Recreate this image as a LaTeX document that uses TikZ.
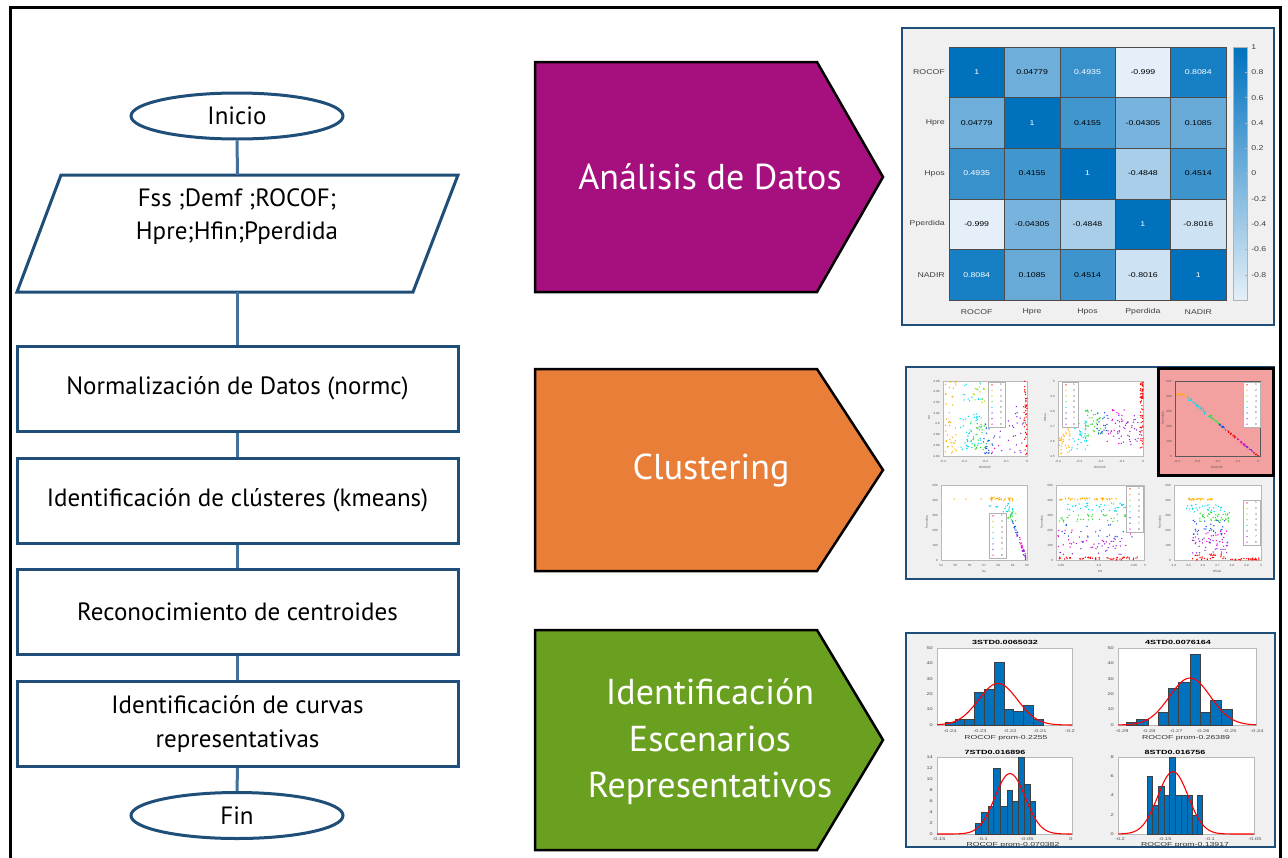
\documentclass[tikz,border=0pt]{standalone}
\usepackage{fontspec}
\setmainfont{PT Sans}
\newfontfamily\chartf{Liberation Sans}
\usetikzlibrary{shapes.geometric}
\definecolor{fcol}{RGB}{31,78,121}
\definecolor{ccol}{RGB}{65,113,156}
\definecolor{magA}{RGB}{165,16,126}
\definecolor{oraA}{RGB}{232,126,56}
\definecolor{grnA}{RGB}{106,160,32}
\definecolor{hd}{RGB}{0,114,189}
\definecolor{hl}{RGB}{228,239,249}
\definecolor{panelbg}{RGB}{240,240,240}
\definecolor{panelfr}{RGB}{31,78,121}
\definecolor{pinkbg}{RGB}{242,160,160}
\definecolor{k1}{RGB}{255,0,0}
\definecolor{k2}{RGB}{255,175,0}
\definecolor{k3}{RGB}{175,225,0}
\definecolor{k4}{RGB}{60,220,60}
\definecolor{k5}{RGB}{0,220,235}
\definecolor{k6}{RGB}{20,80,230}
\definecolor{k7}{RGB}{140,40,220}
\definecolor{k8}{RGB}{240,0,200}
\tikzset{
 flowbox/.style={rectangle, draw=fcol, line width=3pt, fill=white, minimum width=441pt, minimum height=85pt, inner sep=0pt, font=\fontsize{25}{34}\selectfont, align=center},
 term/.style={ellipse, draw=fcol, line width=3pt, fill=white, minimum width=212pt, minimum height=46pt, inner sep=0pt, font=\fontsize{25}{30}\selectfont},
 flowline/.style={draw=fcol, line width=3pt, fill=white, line join=miter},
 flowtext/.style={font=\fontsize{25}{33}\selectfont, align=center, inner sep=0pt},
 conn/.style={draw=ccol, line width=3pt},
 pent/.style={draw=black, line width=2.5pt, line join=miter},
 penttext/.style={text=white, font=\fontsize{36}{46.5}\selectfont, align=center, inner sep=0pt},
 panel/.style={fill=panelbg, draw=panelfr, line width=1.5pt},
 hmt/.style={font=\chartf\fontsize{7}{8}\selectfont, inner sep=0pt, xscale=1.25},
 hml/.style={font=\chartf\fontsize{7}{8}\selectfont, inner sep=0pt, text=black!75, xscale=1.25},
 sct/.style={font=\chartf\fontsize{3}{3.5}\selectfont, inner sep=0pt, text=black!65, xscale=1.1},
 sctr/.style={font=\chartf\fontsize{3}{3.5}\selectfont, inner sep=0pt, text=black!65, rotate=90},
 axb/.style={fill=white, draw=gray!55, line width=0.5pt},
 hst/.style={font=\chartf\fontsize{4}{5}\selectfont, inner sep=0pt, text=black!70, xscale=1.4},
 htitle/.style={font=\chartf\bfseries\fontsize{6}{7}\selectfont, inner sep=0pt, xscale=1.5},
 hxl/.style={font=\chartf\fontsize{5.8}{6.5}\selectfont, inner sep=0pt, text=black!80, xscale=1.5},
 barf/.style={fill=hd, draw=black!75, line width=0.4pt},
 gauss/.style={draw=red, line width=1.1pt},
}
\newcommand\scatpts[6]{%
  \foreach \sk in {1,...,#6}{%
    \pgfmathsetmacro\sxa{#1+#2*rnd}%
    \pgfmathsetmacro\sya{#3+#4*rnd}%
    \fill[#5] (\sxa,\sya) circle (0.75pt);}}
\newcommand\linpts[7]{%
  \foreach \sk in {1,...,#6}{%
    \pgfmathsetmacro\stq{rnd}%
    \pgfmathsetmacro\sxa{#1+(#3-#1)*\stq+#7*rand}%
    \pgfmathsetmacro\sya{#2+(#4-#2)*\stq+#7*rand}%
    \fill[#5] (\sxa,\sya) circle (0.75pt);}}
\newcommand\legbox[4]{%
  \filldraw[fill=white, draw=gray!60, line width=0.6pt] (#1,#2) rectangle ++(#3,#4);
  \foreach \cc [count=\j] in {k1,k2,k3,k4,k5,k6,k7,k8}{%
    \fill[\cc] ({#1+4},{#2+#4*(\j-0.5)/8}) circle (0.7pt);
    \node[sct] at ({#1+#3-4},{#2+#4*(\j-0.5)/8}) {\j};}}
\begin{document}
\begin{tikzpicture}[x=1pt,y=-1pt]
\useasboundingbox (0,0) rectangle (1288,857);
\clip (0,0) rectangle (1288,857);
\fill[white] (0,0) rectangle (1288,857);
\draw[line width=3pt] (10,7) rectangle (1280,900);

% ---------------- flowchart
\node[term] (ini) at (237,116) {Inicio};
\node[draw=none, minimum width=441pt, minimum height=117pt, inner sep=0pt] (inp) at (237.5,233.5) {};
\draw[flowline] (61,175) -- (458,175) -- (413,292) -- (17,292) -- cycle;
\node[flowtext] (inpt) at (237,217) {Fss ;Demf ;ROCOF;\\Hpre;Hfin;Pperdida};
\node[flowbox] (b1) at (237.5,388.5) {Normalización de Datos (normc)};
\node[flowbox] (b2) at (237.5,500.5) {Identificación de clústeres (kmeans)};
\node[flowbox] (b3) at (237.5,612) {Reconocimiento de centroides};
\node[flowbox] (b4) at (237.5,724) {Identificación de curvas\\representativas};
\node[term] (fin) at (237,815.5) {Fin};
\draw[conn] (ini.south) -- (inp.north);
\draw[conn] (inp.south) -- (b1.north);
\draw[conn] (b1.south) -- (b2.north);
\draw[conn] (b2.south) -- (b3.north);
\draw[conn] (b3.south) -- (b4.north);
\draw[conn] (b4.south) -- (fin.north);

% ---------------- pentagons
\draw[pent, fill=magA] (535,62) -- (817,62) -- (883,177) -- (817,292) -- (535,292) -- cycle;
\node[penttext] (p1) at (710,177) {Análisis de Datos};
\draw[pent, fill=oraA] (535,369) -- (817,369) -- (883,470) -- (817,571) -- (535,571) -- cycle;
\node[penttext] (p2) at (711,470) {Clustering};
\draw[pent, fill=grnA] (535,630) -- (817,630) -- (883,740) -- (817,850) -- (535,850) -- cycle;
\node[penttext] (p3) at (710,742) {Identificación\\Escenarios\\Representativos};

% ---------------- heatmap panel
\draw[panel] (902,28) rectangle (1274,325);
\foreach \v [count=\i from 0] in {1,0.04779,0.4935,-0.999,0.8084,0.04779,1,0.4155,-0.04305,0.1085,0.4935,0.4155,1,-0.4848,0.4514,-0.999,-0.04305,-0.4848,1,-0.8016,0.8084,0.1085,0.4514,-0.8016,1}{
  \pgfmathtruncatemacro\hc{mod(\i,5)}
  \pgfmathtruncatemacro\hr{int(\i/5)}
  \pgfmathtruncatemacro\hp{round((\v+1)*50)}
  \pgfmathsetmacro\hX{949+\hc*55.4}
  \pgfmathsetmacro\hY{47+\hr*50.6}
  \ifdim\v pt>0.47pt \def\htc{white}\else\def\htc{black}\fi
  \filldraw[fill=hd!\hp!hl, draw=gray!60!black, line width=0.6pt] (\hX,\hY) rectangle ++(55.4,50.6);
  \node[hmt, text=\htc] at (\hX+27.7,\hY+25.3) {\v};
}
\foreach \l [count=\j from 0] in {ROCOF,Hpre,Hpos,Pperdida,NADIR}{
  \node[hml, anchor=east] at (945,{72.3+50.6*\j}) {\l};
  \node[hml] at ({976.7+55.4*\j},312) {\l};
}
\shade[top color=hd, bottom color=hl] (1233,47) rectangle (1247,300);
\draw[gray!60, line width=0.6pt] (1233,47) rectangle (1247,300);
\foreach \l [count=\j from 0] in {1,0.8,0.6,0.4,0.2,0,-0.2,-0.4,-0.6,-0.8}{
  \draw[gray!60, line width=0.4pt] (1247,{47+25.3*\j}) -- (1244.5,{47+25.3*\j});
  \node[hml, anchor=west] at (1251,{47+25.3*\j}) {\l};
}

% ---------------- clustering panel
\pgfmathsetseed{12}
\draw[panel] (906,367) rectangle (1274,579);
\fill[pinkbg] (1158,368) rectangle (1273,475);
\draw[line width=3pt] (1158,368) rectangle (1273,475);
% plot 1
\draw[axb] (943,381) rectangle (1027,456);
\scatpts{945}{12}{381}{73}{k2}{40}
\scatpts{960}{22}{410}{40}{k5}{45}
\scatpts{962}{22}{381}{22}{k5}{15}
\scatpts{972}{13}{381}{22}{k3}{12}
\scatpts{970}{17}{420}{30}{k4}{30}
\scatpts{983}{12}{418}{36}{k6}{25}
\scatpts{992}{13}{381}{73}{k8}{15}
\scatpts{998}{26}{405}{49}{k7}{30}
\scatpts{1024}{3}{381}{74}{k1}{40}
\legbox{988}{382}{17}{45}
\foreach \l [count=\j from 0] in {-0.4,-0.3,-0.2,-0.1,0} \node[sct] at ({943+21*\j},461) {\l};
\foreach \l [count=\j from 0] in {4.98,4.96,4.94,4.92,4.9,4.88,4.86,4.84} \node[sct, anchor=east] at (940,{381+10.71*\j}) {\l};
\node[sct] at (985,467) {ROCOF};
\node[sctr] at (929,418) {Hd};
% plot 2
\draw[axb] (1058,381) rectangle (1143,456);
\scatpts{1059}{11}{425}{29}{k2}{35}
\scatpts{1071}{17}{416}{34}{k5}{40}
\scatpts{1085}{17}{409}{29}{k4}{40}
\scatpts{1097}{11}{412}{22}{k6}{20}
\scatpts{1107}{18}{409}{35}{k8}{25}
\scatpts{1117}{23}{412}{36}{k7}{35}
\scatpts{1140}{3}{382}{66}{k1}{40}
\scatpts{1140}{3}{382}{18}{k1}{20}
\legbox{1062}{382}{16}{45}
\foreach \l [count=\j from 0] in {-0.4,-0.3,-0.2,-0.1,0} \node[sct] at ({1058+21.25*\j},461) {\l};
\foreach \l [count=\j from 0] in {5,4.9,4.8,4.7,4.6,4.5} \node[sct, anchor=east] at (1055,{381+15*\j}) {\l};
\node[sct] at (1100,467) {ROCOF};
\node[sctr] at (1045,418) {Hfinal};
% plot 3 (highlighted)
\draw[gray!70!black, line width=0.5pt] (1175,381) rectangle (1260,456);
\linpts{1177}{394}{1188}{396}{k2}{15}{1}
\linpts{1188}{398}{1209}{415.4}{k5}{30}{1.5}
\linpts{1209}{415.4}{1219.5}{424.1}{k4}{18}{1.2}
\linpts{1219.5}{424.1}{1226.5}{429.9}{k6}{12}{1}
\linpts{1226.5}{429.9}{1235.6}{437.4}{k1}{14}{0.8}
\linpts{1235.6}{437.4}{1245.4}{445.6}{k8}{15}{0.8}
\linpts{1245.4}{445.6}{1253.1}{452}{k7}{12}{0.8}
\linpts{1253.1}{452}{1258}{456}{k1}{8}{0.6}
\legbox{1243}{382}{17}{45}
\foreach \l [count=\j from 0] in {-0.4,-0.3,-0.2,-0.1,0} \node[sct] at ({1177+20.25*\j},461) {\l};
\foreach \l [count=\j from 0] in {500,400,300,200,100,0} \node[sct, anchor=east] at (1172,{381+15*\j}) {\l};
\node[sct] at (1217,467) {ROCOF};
\node[sctr] at (1163,418) {Pperdida};
% plot 4
\draw[axb] (941,485) rectangle (1027,560);
\foreach \ox in {954,966,981,995} \fill[k2] (\ox,499) circle (0.75pt);
\scatpts{990}{23}{497}{4}{k2}{30}
\scatpts{1003}{10}{503}{12}{k5}{18}
\scatpts{988}{10}{505}{3}{k5}{5}
\scatpts{1008}{8}{511}{10}{k4}{15}
\linpts{1012}{519}{1018}{536}{k6}{15}{1}
\linpts{1017}{533}{1024}{552}{k8}{18}{1}
\linpts{1021}{546}{1027}{560}{k7}{15}{1}
\legbox{989}{513}{17}{45}
\foreach \l [count=\j from 0] in {54,55,56,57,58,59,60} \node[sct] at ({941+14.33*\j},565) {\l};
\foreach \l [count=\j from 0] in {500,400,300,200,100,0} \node[sct, anchor=east] at (938,{485+15*\j}) {\l};
\node[sct] at (984,571) {fss};
\node[sctr] at (927,522) {Pperdida};
% plot 5
\draw[axb] (1056,485) rectangle (1144,560);
\scatpts{1058}{62}{498}{2}{k2}{40}
\scatpts{1058}{82}{503}{9}{k5}{45}
\scatpts{1058}{82}{514}{8}{k4}{45}
\scatpts{1058}{75}{524}{15}{k6}{20}
\scatpts{1058}{78}{530}{18}{k8}{25}
\scatpts{1058}{65}{540}{15}{k7}{30}
\scatpts{1058}{80}{557}{3}{k1}{50}
\legbox{1126}{486}{17}{46}
\foreach \l/\px in {4.85/1061,4.9/1099,4.95/1134,5/1145} \node[sct] at (\px,565) {\l};
\foreach \l [count=\j from 0] in {500,400,300,200,100,0} \node[sct, anchor=east] at (1053,{485+15*\j}) {\l};
\node[sct] at (1100,571) {Hd};
\node[sctr] at (1042,522) {Pperdida};
% plot 6
\draw[axb] (1174,485) rectangle (1261,560);
\scatpts{1187}{26}{498}{2}{k2}{30}
\scatpts{1185}{40}{503}{9}{k5}{30}
\scatpts{1198}{32}{512}{10}{k4}{40}
\scatpts{1192}{33}{520}{15}{k6}{30}
\scatpts{1192}{38}{530}{18}{k8}{25}
\scatpts{1192}{36}{538}{17}{k7}{30}
\scatpts{1192}{36}{554}{6}{k1}{30}
\scatpts{1230}{30}{558}{2}{k1}{25}
\legbox{1243}{500}{17}{45}
\foreach \l [count=\j from 0] in {4.4,4.5,4.6,4.7,4.8,4.9,5} \node[sct] at ({1174+14.5*\j},565) {\l};
\foreach \l [count=\j from 0] in {500,400,300,200,100,0} \node[sct, anchor=east] at (1171,{485+15*\j}) {\l};
\node[sct] at (1217,571) {Hfinal};
\node[sctr] at (1160,522) {Pperdida};

% ---------------- histogram panel
\draw[panel] (906,633) rectangle (1275,847);
% TL
\draw[axb] (937,648) rectangle (1072,725);
\foreach \a/\b/\hv in {945/954.8/2,954.8/964.6/4,964.6/974.4/4,974.4/984.2/21,984.2/994/23,994/1003.8/41,1003.8/1013.6/10,1013.6/1023.4/9,1023.4/1033.2/13,1033.2/1043/4}
  \draw[barf] (\a,725) rectangle (\b,{725-\hv*1.54});
\begin{scope}
\clip (937,648) rectangle (1072,725);
\draw[gauss] plot[domain=937:1072, samples=70, smooth] (\x,{725-41.6*exp(-((\x-998)^2)/760)});
\end{scope}
\foreach \l [count=\j from 0] in {0,10,20,30,40,50} \node[hst, anchor=east] at (933,{725-15.4*\j}) {\l};
\foreach \l [count=\j from 0] in {-0.24,-0.23,-0.22,-0.21,-0.2} \node[hst] at ({950+30*\j},731) {\l};
\node[htitle] at (1005,642) {3STD0.0065032};
\node[hxl] at (1006,738) {ROCOF prom-0.2255};
% TR
\draw[axb] (1118,648) rectangle (1256,725);
\foreach \a/\b/\hv in {1126/1136/2,1136/1148/4,1158/1168/8,1168/1178/24,1178/1190/28,1190/1200/46,1200/1210/8,1210/1221/16,1221/1232/10}
  \draw[barf] (\a,725) rectangle (\b,{725-\hv*1.54});
\begin{scope}
\clip (1118,648) rectangle (1256,725);
\draw[gauss] plot[domain=1118:1256, samples=70, smooth] (\x,{725-47*exp(-((\x-1190)^2)/840)});
\end{scope}
\foreach \l [count=\j from 0] in {0,10,20,30,40,50} \node[hst, anchor=east] at (1114,{725-15.4*\j}) {\l};
\foreach \l [count=\j from 0] in {-0.29,-0.28,-0.27,-0.26,-0.25,-0.24} \node[hst] at ({1122+27*\j},731) {\l};
\node[htitle] at (1178,642) {4STD0.0076164};
\node[hxl] at (1186,738) {ROCOF prom-0.26389};
% BL
\draw[axb] (937,757) rectangle (1072,834);
\foreach \a/\b/\hv in {975/981/2,981/987.7/4,987.7/993.3/5,993.3/1000/12,1000/1006.7/5,1006.7/1012.3/8,1012.3/1018.3/6,1018.3/1024.3/14,1024.3/1030/9,1030/1035/6}
  \draw[barf] (\a,834) rectangle (\b,{834-\hv*5.5});
\begin{scope}
\clip (937,757) rectangle (1072,834);
\draw[gauss] plot[domain=937:1072, samples=70, smooth] (\x,{834-60.5*exp(-((\x-1010)^2)/462)});
\end{scope}
\foreach \l [count=\j from 0] in {0,2,4,6,8,10,12,14} \node[hst, anchor=east] at (933,{834-11*\j}) {\l};
\foreach \l [count=\j from 0] in {-0.15,-0.1,-0.05,0} \node[hst] at ({939+44*\j},839) {\l};
\node[htitle] at (995,752) {7STD0.016896};
\node[hxl] at (1013,845) {ROCOF prom-0.070382};
% BR
\draw[axb] (1118,757) rectangle (1254,834);
\foreach \a/\b/\hv in {1146.7/1152.3/6,1152.3/1157.7/3,1157.7/1163.7/5,1163.7/1169/4,1169/1175/8,1175/1181/4,1181/1186.7/4,1186.7/1191.7/4,1191.7/1196.7/2,1196.7/1202.3/4}
  \draw[barf] (\a,834) rectangle (\b,{834-\hv*9.6});
\begin{scope}
\clip (1118,757) rectangle (1254,834);
\draw[gauss] plot[domain=1118:1254, samples=70, smooth] (\x,{834-62.4*exp(-((\x-1173)^2)/462)});
\end{scope}
\foreach \l [count=\j from 0] in {0,2,4,6,8} \node[hst, anchor=east] at (1114,{834-19.25*\j}) {\l};
\foreach \l [count=\j from 0] in {-0.2,-0.15,-0.1,-0.05} \node[hst] at ({1120+45*\j},839) {\l};
\node[htitle] at (1175,752) {8STD0.016756};
\node[hxl] at (1185,845) {ROCOF prom-0.13917};
\end{tikzpicture}
\end{document}
